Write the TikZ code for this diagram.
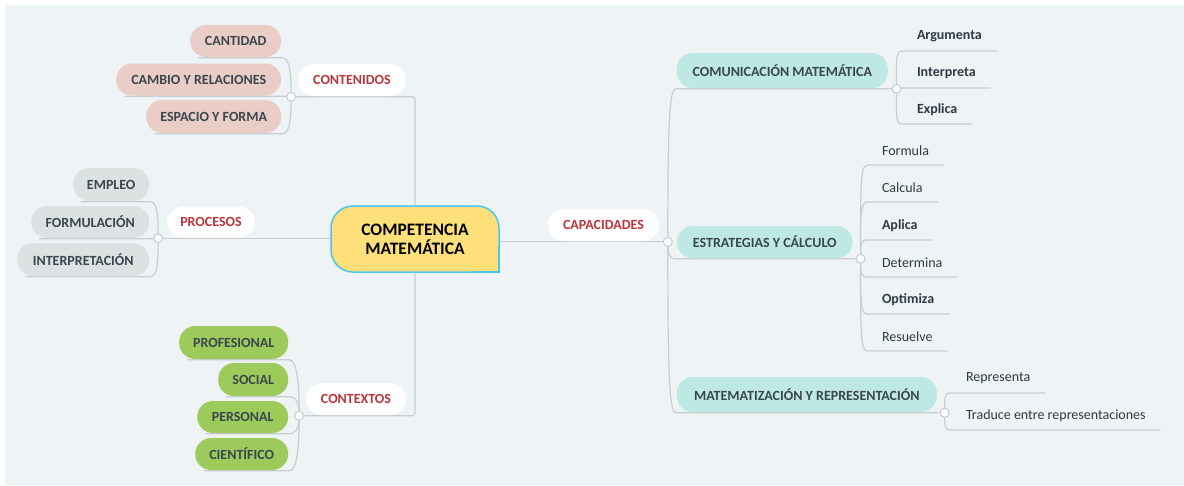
\documentclass[tikz,border=0pt]{standalone}
\usepackage{fontspec}
\setmainfont{Carlito}
\usetikzlibrary{calc}
\pgfdeclarelayer{bglayer}
\pgfsetlayers{bglayer,main}
\definecolor{bgc}{HTML}{EEF3F6}
\definecolor{linec}{HTML}{C9CED2}
\definecolor{dotc}{HTML}{C5CBCF}
\definecolor{pinkc}{HTML}{EBCDC7}
\definecolor{grayc}{HTML}{DCE1E2}
\definecolor{greenc}{HTML}{9CCB5B}
\definecolor{tealc}{HTML}{BDE8E4}
\definecolor{yellowc}{HTML}{FEE07B}
\definecolor{cyanc}{HTML}{4CC6EF}
\definecolor{redc}{HTML}{B8353B}
\definecolor{txtc}{HTML}{3A464D}
\definecolor{leafc}{HTML}{2F3A44}
\newcommand\mmlinkL[3]{\draw[conn] (#1.center) .. controls ($(#1.center|-#2.south)!#3!(#1.center)$) and ($(#2.south east)+(7,0)$) .. (#2.south east) -- ($(#2.south west)+(9,0)$);}
\newcommand\mmlinkR[3]{\draw[conn] (#1.center) .. controls ($(#1.center|-#2.south)!#3!(#1.center)$) and ($(#2.south west)+(-7,0)$) .. (#2.south west) -- (#2.south east);}
\begin{document}
\begin{tikzpicture}[x=1pt,y=-1pt,
  conn/.style={draw=linec, line width=1.2pt},
  pillbase/.style={rounded corners=16pt, inner sep=0pt, outer sep=0.8pt, align=center, text=txtc, font=\fontsize{14}{16}\selectfont\bfseries},
  pinkp/.style={pillbase, fill=pinkc, anchor=east},
  grayp/.style={pillbase, fill=grayc, anchor=east},
  greenp/.style={pillbase, fill=greenc, anchor=east},
  tealp/.style={pillbase, fill=tealc, anchor=west},
  catp/.style={pillbase, fill=white, text=redc},
  leafn/.style={anchor=west, inner xsep=15pt, inner ysep=0pt, outer sep=0pt, minimum height=29pt, text=leafc, font=\fontsize{14}{16}\selectfont},
  leafb/.style={leafn, font=\fontsize{14}{16}\selectfont\bfseries},
  dotn/.style={circle, fill=white, draw=dotc, line width=1pt, minimum size=9pt, inner sep=0pt},
  wh/.style 2 args={minimum width=#1pt, minimum height=#2pt}
]
\useasboundingbox (0,0) rectangle (1184,485);

% central topic
\node[fill=yellowc, draw=cyanc, line width=1.5pt, rounded corners=22pt, outer sep=0pt,
      minimum width=168pt, minimum height=66pt, inner sep=0pt, align=center,
      font=\fontsize{17.5}{19}\selectfont\bfseries, text=black] (c) at (415,239) {COMPETENCIA\\MATEMÁTICA};
\fill[yellowc] ($(c.south east)+(-24,-24)$) rectangle (c.south east);
\draw[cyanc, line width=1.5pt] ($(c.south east)+(0,-26)$) -- (c.south east) -- ($(c.south east)+(-26,0)$);

% left: contenidos
\node[catp, wh={108}{32}] (cont) at (352,80) {CONTENIDOS};
\node[pinkp, wh={91}{32}] (cant) at (282,41) {CANTIDAD};
\node[pinkp, wh={165}{32}] (camb) at (282,79.5) {CAMBIO Y RELACIONES};
\node[pinkp, wh={135}{33}] (espa) at (282,116.5) {ESPACIO Y FORMA};
\node[dotn] (dCont) at ($(cont.south west)+(-6,0)$) {};

% left: procesos
\node[catp, wh={88}{31}] (proc) at (211,222) {PROCESOS};
\node[grayp, wh={76}{33}] (empl) at (150,184.5) {EMPLEO};
\node[grayp, wh={118}{32}] (form) at (150,222) {FORMULACIÓN};
\node[grayp, wh={132}{33}] (intp) at (150,259.5) {INTERPRETACIÓN};
\node[dotn] (dProc) at ($(proc.south west)+(-8,0)$) {};

% left: contextos
\node[catp, wh={100}{32}] (ctx) at (356,399) {CONTEXTOS};
\node[greenp, wh={109}{33}] (prof) at (289,342.5) {PROFESIONAL};
\node[greenp, wh={70}{33}] (soci) at (289,379.5) {SOCIAL};
\node[greenp, wh={91}{32}] (pers) at (289,417) {PERSONAL};
\node[greenp, wh={93}{32}] (cien) at (289,454) {CIENTÍFICO};
\node[dotn] (dCtx) at ($(ctx.south west)+(-6,0)$) {};

% right: capacidades
\node[catp, wh={111}{32}] (cap) at (603.5,225) {CAPACIDADES};
\node[dotn] (dCap) at ($(cap.south east)+(8,0)$) {};
\node[tealp, wh={211}{35}] (com) at (676,70.5) {COMUNICACIÓN MATEMÁTICA};
\node[tealp, wh={176}{32}] (est) at (676,242) {ESTRATEGIAS Y CÁLCULO};
\node[tealp, wh={260}{35}] (mat) at (676,394.5) {MATEMATIZACIÓN Y REPRESENTACIÓN};
\node[dotn] (dCom) at ($(com.south east)+(8,0)$) {};
\node[dotn] (dEst) at ($(est.south east)+(7,0)$) {};
\node[dotn] (dMat) at ($(mat.south east)+(7,0)$) {};

% leaves
\node[leafb] (arg) at (902,36.5) {Argumenta};
\node[leafb] (inte) at (902,73.5) {Interpreta};
\node[leafb] (expl) at (902,109.5) {Explica};
\node[leafn] (frm) at (867,150.5) {Formula};
\node[leafn] (calc) at (867,187.5) {Calcula};
\node[leafb] (apl) at (867,225.5) {Aplica};
\node[leafn] (det) at (867,262.5) {Determina};
\node[leafb] (opt) at (867,299.5) {Optimiza};
\node[leafn] (res) at (867,336.5) {Resuelve};
\node[leafn] (rep) at (951,378.5) {Representa};
\node[leafn] (trad) at (951,415.5) {Traduce entre representaciones};

\begin{pgfonlayer}{bglayer}
\fill[white] (0,0) rectangle (1184,485);
\fill[bgc] (5,5) rectangle (1184,485);
% trunk
\draw[conn, rounded corners=3pt] (c.north) |- (dCont.center);
\draw[conn] (dProc.center) -- (dProc.center -| c.west);
\draw[conn, rounded corners=3pt] (c.south) |- (dCtx.center);
\draw[conn] (dCap.center) -- (dCap.center -| c.east);
% left children
\mmlinkL{dCont}{cant}{0.3}
\mmlinkL{dCont}{camb}{0.3}
\mmlinkL{dCont}{espa}{0.3}
\mmlinkL{dProc}{empl}{0.3}
\mmlinkL{dProc}{form}{0.3}
\mmlinkL{dProc}{intp}{0.3}
\mmlinkL{dCtx}{prof}{0.3}
\mmlinkL{dCtx}{soci}{0.3}
\mmlinkL{dCtx}{pers}{0.3}
\mmlinkL{dCtx}{cien}{0.3}
% right
\mmlinkR{dCap}{com}{0.25}
\mmlinkR{dCap}{est}{0.3}
\mmlinkR{dCap}{mat}{0.25}
\draw[conn] (com.south east) -- (dCom.center);
\draw[conn] (est.south east) -- (dEst.center);
\draw[conn] (mat.south east) -- (dMat.center);
\mmlinkR{dCom}{arg}{0.3}
\mmlinkR{dCom}{inte}{0.3}
\mmlinkR{dCom}{expl}{0.3}
\mmlinkR{dEst}{frm}{0.3}
\mmlinkR{dEst}{calc}{0.3}
\mmlinkR{dEst}{apl}{0.3}
\mmlinkR{dEst}{det}{0.3}
\mmlinkR{dEst}{opt}{0.3}
\mmlinkR{dEst}{res}{0.3}
\mmlinkR{dMat}{rep}{0.3}
\mmlinkR{dMat}{trad}{0.3}
\end{pgfonlayer}
\end{tikzpicture}
\end{document}
